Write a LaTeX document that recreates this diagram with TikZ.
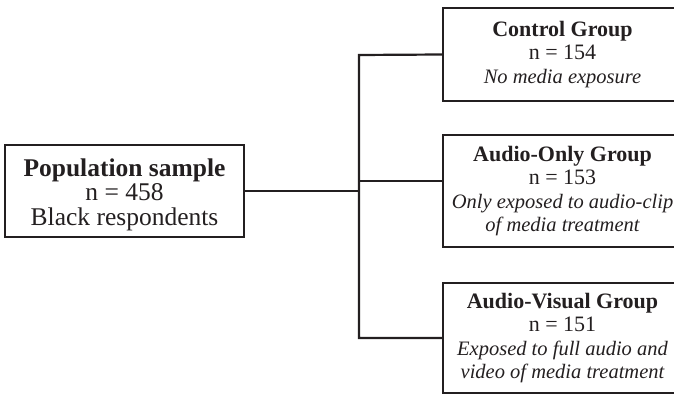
\documentclass[tikz,border=0pt]{standalone}
\usepackage{fontspec}
\setmainfont{Liberation Serif}
\definecolor{ink}{HTML}{231F20}
\newcommand{\itline}[1]{{\fontsize{20.5}{23.5}\selectfont\itshape #1}}
\begin{document}
\begin{tikzpicture}[x=1pt,y=-1pt,
  box/.style={draw=ink,line width=2.2pt,align=center,inner sep=0pt,text=ink,
    minimum width=239pt,font=\fontsize{22}{23.5}\selectfont},
  bigbox/.style={box,font=\fontsize{25.5}{24.5}\selectfont},
  link/.style={draw=ink,line width=2.2pt}]
\useasboundingbox (0,0) rectangle (674,395);
\node[bigbox,minimum height=92pt] (pop) at (124.5,191)
  {\rule{0pt}{25pt}\textbf{Population sample}\\n = 458\\Black respondents};
\node[box,minimum height=93pt] (ctrl) at (562.5,54.5)
  {\textbf{Control Group}\\n = 154\\\itline{No media exposure}};
\node[box,minimum height=112pt] (ao) at (562.5,191)
  {\textbf{Audio-Only Group}\\n = 153\\\itline{Only exposed to audio-clip}\\\itline{of media treatment}};
\node[box,minimum height=110pt] (av) at (562.5,338)
  {\textbf{Audio-Visual Group}\\n = 151\\\itline{Exposed to full audio and}\\\itline{video of media treatment}};
\coordinate (ttop) at (359,55);
\coordinate (tbot) at (359,338);
\coordinate (aoin) at (443,181);
\draw[link] (ctrl.west) -- (ttop) -- (tbot) -- (av.west);
\draw[link] (pop.east) -- (pop.east -| ttop);
\draw[link] (aoin -| ttop) -- (aoin);
\end{tikzpicture}
\end{document}
